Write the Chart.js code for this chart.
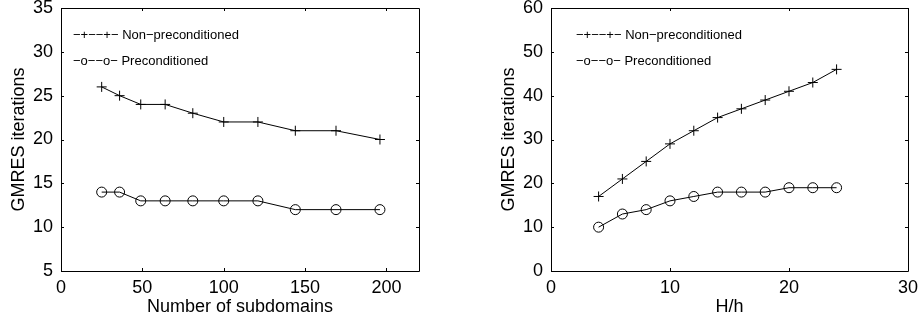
<!DOCTYPE html>
<html lang="en">
<head>
    <meta charset="UTF-8">
    <title>GMRES iterations</title>
    <script src="https://cdn.jsdelivr.net/npm/chart.js"></script>
    <style>
        body {
            margin: 0;
            background: white;
            width: 924px;
            height: 322px;
            position: relative;
            overflow: hidden;
        }
        .panel {
            position: absolute;
            top: 0;
            height: 322px;
        }
        #left { left: 0; width: 462px; }
        #right { left: 490px; width: 434px; }
    </style>
</head>
<body>
    <div class="panel" id="left"><canvas id="subChart"></canvas></div>
    <div class="panel" id="right"><canvas id="ratioChart"></canvas></div>

    <script>
        // left panel: iterations vs number of subdomains
        const subdomains = [25, 36, 49, 64, 81, 100, 121, 144, 169, 196];
        const subNonPrec = [26, 25, 24, 24, 23, 22, 22, 21, 21, 20];
        const subPrec = [14, 14, 13, 13, 13, 13, 13, 12, 12, 12];
        const subTicks = [0, 50, 100, 150, 200];

        // right panel: iterations vs H/h
        const ratios = [4, 6, 8, 10, 12, 14, 16, 18, 20, 22, 24];
        const ratioNonPrec = [17, 21, 25, 29, 32, 35, 37, 39, 41, 43, 46];
        const ratioPrec = [10, 13, 14, 16, 17, 18, 18, 18, 19, 19, 19];
        const ratioTicks = [0, 10, 20, 30];

        const legendLabels = ["\u2212+\u2212\u2212+\u2212 Non\u2212preconditioned", "\u2212o\u2212\u2212o\u2212 Preconditioned"];

        const FONT = "'Liberation Sans', Arial, Helvetica, sans-serif";

        // MATLAB style box with inward ticks + text legend
        const boxPlugin = {
            id: "box",
            afterDraw(chart, args, opts) {
                const ctx = chart.ctx;
                const a = chart.chartArea;
                const xs = chart.scales.x, ys = chart.scales.y;
                const tl = 3;
                ctx.save();
                ctx.strokeStyle = "#000";
                ctx.lineWidth = 1;
                ctx.beginPath();
                ctx.rect(Math.round(a.left) + 0.5, Math.round(a.top) + 0.5,
                    Math.round(a.right - a.left), Math.round(a.bottom - a.top));
                xs.ticks.forEach(t => {
                    const px = Math.round(xs.getPixelForValue(t.value)) + 0.5;
                    ctx.moveTo(px, a.bottom); ctx.lineTo(px, a.bottom - tl);
                    ctx.moveTo(px, a.top); ctx.lineTo(px, a.top + tl);
                });
                ys.ticks.forEach(t => {
                    const py = Math.round(ys.getPixelForValue(t.value)) + 0.5;
                    ctx.moveTo(a.left, py); ctx.lineTo(a.left + tl, py);
                    ctx.moveTo(a.right, py); ctx.lineTo(a.right - tl, py);
                });
                ctx.stroke();

                ctx.fillStyle = "#000";
                ctx.font = "13px " + FONT;
                ctx.textBaseline = "middle";
                legendLabels.forEach((s, i) => {
                    ctx.fillText(s, a.left + opts.dx, a.top + 27 + i * 26);
                });
                ctx.restore();
            }
        };

        function makeChart(id, xs, nonPrec, prec, xRange, xTicks, yRange, yStep, xTitle, padRight, legendDx) {
            const series = (data, style, r) => ({
                data: xs.map((x, i) => ({ x: x, y: data[i] })),
                borderColor: "#000",
                backgroundColor: "transparent",
                borderWidth: 1,
                pointStyle: style,
                pointRadius: r,
                pointBorderWidth: 1,
                pointBorderColor: "#000",
                pointBackgroundColor: "transparent",
                tension: 0
            });
            return new Chart(document.getElementById(id), {
                type: "line",
                data: {
                    datasets: [series(nonPrec, "cross", 5), series(prec, "circle", 5)]
                },
                plugins: [boxPlugin],
                options: {
                    responsive: true,
                    maintainAspectRatio: false,
                    animation: false,
                    layout: { padding: { left: 4, right: padRight, top: 0, bottom: 0 } },
                    plugins: {
                        legend: { display: false },
                        tooltip: { enabled: false },
                        box: { dx: legendDx }
                    },
                    scales: {
                        x: {
                            type: "linear",
                            min: xRange[0],
                            max: xRange[1],
                            grid: { display: false, drawTicks: false },
                            border: { display: false },
                            ticks: { color: "#000", font: { family: FONT, size: 18 }, padding: 6, maxRotation: 0 },
                            afterBuildTicks(s) { s.ticks = xTicks.map(v => ({ value: v })); },
                            title: { display: true, text: xTitle, color: "#000", font: { family: FONT, size: 18 } },
                            afterFit(s) { s.height = 51; }
                        },
                        y: {
                            min: yRange[0],
                            max: yRange[1],
                            grid: { display: false, drawTicks: false },
                            border: { display: false },
                            ticks: { color: "#000", font: { family: FONT, size: 18 }, padding: 8, stepSize: yStep },
                            title: { display: true, text: "GMRES iterations", color: "#000", font: { family: FONT, size: 18 } },
                            afterFit(s) { s.width = 57; s.paddingTop = 8; s.paddingBottom = 8; }
                        }
                    }
                }
            });
        }

        makeChart("subChart", subdomains, subNonPrec, subPrec,
            [0, 220], subTicks, [5, 35], 5, "Number of subdomains", 43, 12);

        makeChart("ratioChart", ratios, ratioNonPrec, ratioPrec,
            [0, 30], ratioTicks, [0, 60], 10, "H/h", 13, 25);
    </script>
</body>
</html>
